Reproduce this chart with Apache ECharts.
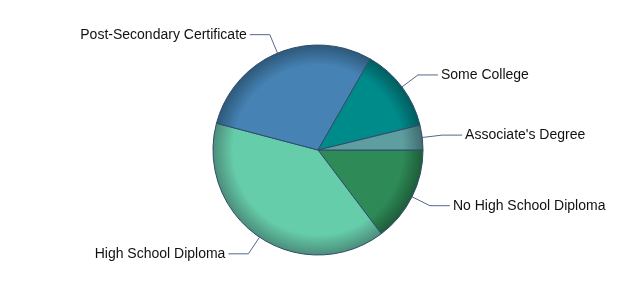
<!DOCTYPE html>
<html>
<head>
<meta charset="utf-8">
<script src="https://cdn.jsdelivr.net/npm/echarts@6/dist/echarts.min.js"></script>
<style>
  html, body { margin: 0; padding: 0; background: #fff; }
  #chart { width: 635px; height: 300px; }
</style>
</head>
<body>
<div id="chart"></div>
<script>
// Education levels, clockwise from 3 o'clock
const categories = [
  'No High School Diploma',
  'High School Diploma',
  'Post-Secondary Certificate',
  'Some College',
  "Associate's Degree"
];
const shares = [14.7, 39.4, 29.2, 12.9, 3.8];
const baseColors = ['#2E8B57', '#66CDAA', '#4682B4', '#008B8B', '#5F9EA0'];
const rimColors  = ['#1d5a38', '#4a8a78', '#2c5677', '#005a5c', '#3f6a6c'];

const chart = echarts.init(document.getElementById('chart'), null, { renderer: 'canvas' });

const cx = 318, cy = 150, R = 105;

function shade(i) {
  return {
    type: 'radial', global: true, x: cx, y: cy, r: R + 1,
    colorStops: [
      { offset: 0, color: baseColors[i] },
      { offset: 0.8, color: baseColors[i] },
      { offset: 1, color: rimColors[i] }
    ]
  };
}

const data = categories.map((name, i) => ({
  name,
  value: shares[i],
  itemStyle: { color: shade(i) }
}));

chart.setOption({
  animation: false,
  backgroundColor: '#ffffff',
  series: [{
    type: 'pie',
    center: [cx, cy],
    radius: [0, R],
    startAngle: 0,
    clockwise: true,
    avoidLabelOverlap: false,
    data,
    itemStyle: { borderColor: '#2f4c6b', borderWidth: 1 },
    label: {
      show: true,
      position: 'outside',
      color: '#111',
      fontFamily: 'Liberation Sans, Arial, sans-serif',
      fontSize: 14,
      distanceToLabelLine: 3
    },
    labelLine: {
      show: true,
      length: 20,
      length2: 20,
      smooth: false,
      lineStyle: { color: '#52698a', width: 1 }
    },
    emphasis: { disabled: true }
  }]
});
</script>
</body>
</html>
